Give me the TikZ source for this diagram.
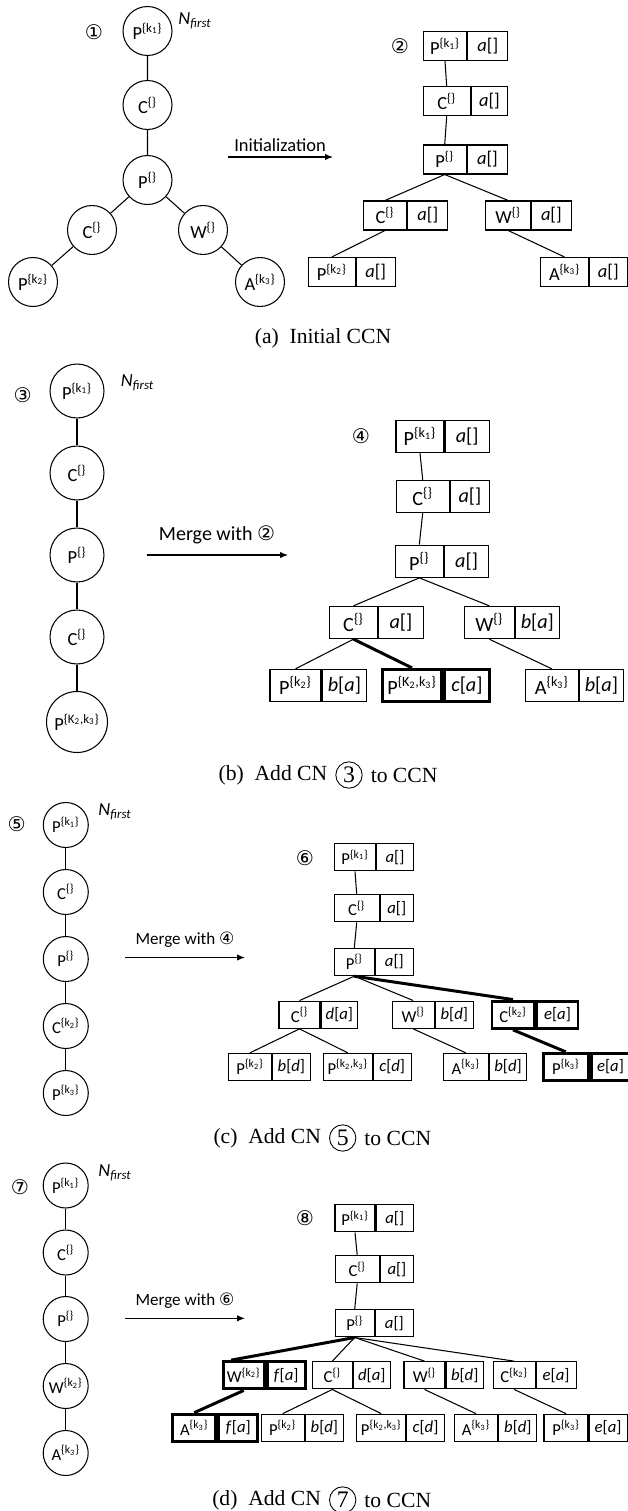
\documentclass[tikz,border=0pt]{standalone}
\usepackage{fontspec}
\setmainfont{Carlito}
\newfontfamily\capfont{Liberation Serif}
\newfontfamily\symfont{DejaVu Sans}
\usetikzlibrary{positioning,arrows.meta}
\newcommand{\lbl}[2]{#1\textsuperscript{\{#2\}}}
\newcommand{\nfirst}{\textit{N\textsubscript{first}}}

\begin{document}
\begin{tikzpicture}[x=0.02cm, y=-0.02cm, line width=0.6pt,
  >={Latex[length=4.5pt,width=3.6pt]},
  cn/.style={circle, draw, inner sep=0pt},
  cell/.style={draw, inner sep=0pt},
  wd/.style={minimum width=#1*0.02cm},
  hilite/.style={line width=1.7pt},
  fa/.style={font=\fontsize{10.5}{12}\selectfont},
  fb/.style={font=\fontsize{11.5}{13}\selectfont},
  fc/.style={font=\fontsize{9.5}{11}\selectfont},
  cna/.style={cn, fa, minimum size=0.98cm},
  cnb/.style={cn, fa, minimum size=1.08cm},
  cnc/.style={cn, fc, minimum size=0.9cm},
  cella/.style={cell, fa, minimum height=0.58cm},
  cellb/.style={cell, fb, minimum height=0.646cm},
  cellc/.style={cell, fc, minimum height=0.546cm},
  num/.style={font=\symfont\fontsize{11.5}{12}\selectfont},
  captxt/.style={font=\capfont\fontsize{12.3}{14}\selectfont},
  capnum/.style={captxt, circle, draw, line width=0.5pt, inner sep=0pt, minimum size=15pt, font=\capfont\fontsize{13.5}{14}\selectfont},
]
  \useasboundingbox (0,0) rectangle (627,1511);

  % (a) initial CN
  \node[num] (n1) at (94,32) {①};
  \node[fa] (nf1) at (195,21) {\nfirst};
  \node[cna] (ca1) at (147.5,31) {\lbl{P}{k\textsubscript{1}}};
  \node[cna] (ca2) at (147.5,105) {\lbl{C}{}};
  \node[cna] (ca3) at (147.5,180) {\lbl{P}{}};
  \node[cna] (ca4) at (92,230) {\lbl{C}{}};
  \node[cna] (ca5) at (203,230) {\lbl{W}{}};
  \node[cna] (ca6) at (33,282) {\lbl{P}{k\textsubscript{2}}};
  \node[cna] (ca7) at (260,282) {\lbl{A}{k\textsubscript{3}}};
  \draw (ca1) -- (ca2) -- (ca3) -- (ca4) -- (ca6);
  \draw (ca3) -- (ca5) -- (ca7);

  \coordinate (ia) at (228,157);
  \coordinate (ib) at (333,157);
  \draw[->] (ia) -- (ib);
  \node[fa] (ilab) at (280,145) {Initialization};

  % (a) CCN
  \node[num] (n2) at (400,46.5) {②};
  \node[cella, wd=43.4] (pa1) at (445,46.2) {\lbl{P}{k\textsubscript{1}}};
  \node[cella, wd=40, anchor=west] (pa1r) at (pa1.east) {\textit{a}[]};
  \node[cella, wd=46.7] (pa2) at (446.7,101.2) {\lbl{C}{}};
  \node[cella, wd=36.7, anchor=west] (pa2r) at (pa2.east) {\textit{a}[]};
  \node[cella, wd=42.7] (pa3) at (444.7,159.5) {\lbl{P}{}};
  \node[cella, wd=40.7, anchor=west] (pa3r) at (pa3.east) {\textit{a}[]};
  \node[cella, wd=43.4] (pa4) at (385,215.5) {\lbl{C}{}};
  \node[cella, wd=40, anchor=west] (pa4r) at (pa4.east) {\textit{a}[]};
  \node[cella, wd=45] (pa5) at (508.2,215.5) {\lbl{W}{}};
  \node[cella, wd=39.3, anchor=west] (pa5r) at (pa5.east) {\textit{a}[]};
  \node[cella, wd=47] (pa6) at (331.8,272) {\lbl{P}{k\textsubscript{2}}};
  \node[cella, wd=38.7, anchor=west] (pa6r) at (pa6.east) {\textit{a}[]};
  \node[cella, wd=47.6] (pa7) at (564.5,272) {\lbl{A}{k\textsubscript{3}}};
  \node[cella, wd=38, anchor=west] (pa7r) at (pa7.east) {\textit{a}[]};
  \draw (pa1.south) -- (pa2.north);
  \draw (pa2.south) -- (pa3.north);
  \draw (pa3.south) -- (pa4.north);
  \draw (pa3.south) -- (pa5.north);
  \draw (pa4.south) -- (pa6.north);
  \draw (pa5.south) -- (pa7.north);

  \node[captxt] (capa) at (323,338) {(a)\enspace Initial CCN};

  % (b) CN 3
  \node[num] (n3) at (22.7,395) {③};
  \node[fa] (nf3) at (137.5,383) {\nfirst};
  \node[cnb] (cb1) at (77,391) {\lbl{P}{k\textsubscript{1}}};
  \node[cnb] (cb2) at (77,473) {\lbl{C}{}};
  \node[cnb] (cb3) at (77,555) {\lbl{P}{}};
  \node[cnb] (cb4) at (77,637) {\lbl{C}{}};
  \node[cn, fa, minimum size=1.22cm] (cb5) at (77,722) {\lbl{P}{K\textsubscript{2},k\textsubscript{3}}};
  \draw (cb1) -- (cb2) -- (cb3) -- (cb4) -- (cb5);

  \coordinate (ma) at (146.7,555);
  \coordinate (mb) at (288,555);
  \draw[->] (ma) -- (mb);
  \node[font=\fontsize{11.4}{13}\selectfont] (mlab) at (217,535) {Merge with {\symfont ②}};

  % (b) CCN
  \node[num] (n4) at (361,436) {④};
  \node[cellb, wd=48] (pb1) at (420,436.2) {\lbl{P}{k\textsubscript{1}}};
  \node[cellb, wd=44.3, anchor=west] (pb1r) at (pb1.east) {\textit{a}[]};
  \node[cellb, wd=53.3] (pb2) at (422.7,496.5) {\lbl{C}{}};
  \node[cellb, wd=39, anchor=west] (pb2r) at (pb2.east) {\textit{a}[]};
  \node[cellb, wd=48] (pb3) at (419.3,561.2) {\lbl{P}{}};
  \node[cellb, wd=44.4, anchor=west] (pb3r) at (pb3.east) {\textit{a}[]};
  \node[cellb, wd=48.4] (pb4) at (353.5,622.5) {\lbl{C}{}};
  \node[cellb, wd=44.3, anchor=west] (pb4r) at (pb4.east) {\textit{a}[]};
  \node[cellb, wd=50] (pb5) at (489.3,622.5) {\lbl{W}{}};
  \node[cellb, wd=44, anchor=west] (pb5r) at (pb5.east) {\textit{b}[\textit{a}]};
  \node[cellb, wd=51] (pb6) at (295.5,685.5) {\lbl{P}{k\textsubscript{2}}};
  \node[cellb, wd=44.7, anchor=west] (pb6r) at (pb6.east) {\textit{b}[\textit{a}]};
  \node[cellb, hilite, wd=59.4] (pb7) at (412,685.5) {\lbl{P}{K\textsubscript{2},k\textsubscript{3}}};
  \node[cellb, hilite, wd=44.5, anchor=west] (pb7r) at (pb7.east) {\textit{c}[\textit{a}]};
  \node[cellb, wd=53] (pb8) at (551.8,685.5) {\lbl{A}{k\textsubscript{3}}};
  \node[cellb, wd=44, anchor=west] (pb8r) at (pb8.east) {\textit{b}[\textit{a}]};
  \draw (pb1.south) -- (pb2.north);
  \draw (pb2.south) -- (pb3.north);
  \draw (pb3.south) -- (pb4.north);
  \draw (pb3.south) -- (pb5.north);
  \draw (pb4.south) -- (pb6.north);
  \draw[hilite] (pb4.south) -- (pb7.north);
  \draw (pb5.south) -- (pb8.north);

  \node[capnum] (capb3) at (349,775) {3};
  \node[captxt, left=1pt of capb3] (capb) {(b)\enspace Add CN};
  \node[captxt, right=1pt of capb3] (capbt) {to CCN};

  % (c) CN 5
  \node[num] (n5) at (16.7,824) {⑤};
  \node[fa] (nf5) at (115,812) {\nfirst};
  \node[cnc] (cc1) at (65.8,825) {\lbl{P}{k\textsubscript{1}}};
  \node[cnc] (cc2) at (65.8,892) {\lbl{C}{}};
  \node[cnc] (cc3) at (65.8,959) {\lbl{P}{}};
  \node[cnc] (cc4) at (65.8,1026) {\lbl{C}{k\textsubscript{2}}};
  \node[cnc] (cc5) at (65.8,1093) {\lbl{P}{k\textsubscript{3}}};
  \draw (cc1) -- (cc2) -- (cc3) -- (cc4) -- (cc5);

  \coordinate (mc) at (125,957.5);
  \coordinate (md) at (245,957.5);
  \draw[->] (mc) -- (md);
  \node[font=\fontsize{9.7}{11}\selectfont] (mlabc) at (185,940) {Merge with {\symfont ④}};

  % (c) CCN
  \node[num] (n6) at (305,858) {⑥};
  \node[cellc, wd=41.4] (pc1) at (355,857.3) {\lbl{P}{k\textsubscript{1}}};
  \node[cellc, wd=36.6, anchor=west] (pc1r) at (pc1.east) {\textit{a}[]};
  \node[cellc, wd=44.7] (pc2) at (356.7,908.3) {\lbl{C}{}};
  \node[cellc, wd=33.3, anchor=west] (pc2r) at (pc2.east) {\textit{a}[]};
  \node[cellc, wd=40] (pc3) at (354.3,962) {\lbl{P}{}};
  \node[cellc, wd=38, anchor=west] (pc3r) at (pc3.east) {\textit{a}[]};
  \node[cellc, wd=41] (pc4) at (299.5,1014.7) {\lbl{C}{}};
  \node[cellc, wd=36.7, anchor=west] (pc4r) at (pc4.east) {\textit{d}[\textit{a}]};
  \node[cellc, wd=41.7] (pc5) at (413.2,1014.7) {\lbl{W}{}};
  \node[cellc, wd=38.3, anchor=west] (pc5r) at (pc5.east) {\textit{b}[\textit{d}]};
  \node[cellc, hilite, wd=42] (pc6) at (513,1014.7) {\lbl{C}{k\textsubscript{2}}};
  \node[cellc, hilite, wd=41, anchor=west] (pc6r) at (pc6.east) {\textit{e}[\textit{a}]};
  \node[cellc, wd=43.4] (pc7) at (250,1067) {\lbl{P}{k\textsubscript{2}}};
  \node[cellc, wd=37.3, anchor=west] (pc7r) at (pc7.east) {\textit{b}[\textit{d}]};
  \node[cellc, wd=49] (pc8) at (347.8,1067) {\lbl{P}{k\textsubscript{2},k\textsubscript{3}}};
  \node[cellc, wd=37.7, anchor=west] (pc8r) at (pc8.east) {\textit{c}[\textit{d}]};
  \node[cellc, wd=45] (pc9) at (465.8,1067) {\lbl{A}{k\textsubscript{3}}};
  \node[cellc, wd=37.4, anchor=west] (pc9r) at (pc9.east) {\textit{b}[\textit{d}]};
  \node[cellc, hilite, wd=45] (pc10) at (565.8,1067) {\lbl{P}{k\textsubscript{3}}};
  \node[cellc, hilite, wd=38.4, anchor=west] (pc10r) at (pc10.east) {\textit{e}[\textit{a}]};
  \draw (pc1.south) -- (pc2.north);
  \draw (pc2.south) -- (pc3.north);
  \draw (pc3.south) -- (pc4.north);
  \draw (pc3.south) -- (pc5.north);
  \draw[hilite] (pc3.south) -- (pc6.north);
  \draw (pc4.south) -- (pc7.north);
  \draw (pc4.south) -- (pc8.north);
  \draw (pc5.south) -- (pc9.north);
  \draw[hilite] (pc6.south) -- (pc10.north);

  \node[capnum] (capc5) at (342.7,1138) {5};
  \node[captxt, left=1pt of capc5] (capc) {(c)\enspace Add CN};
  \node[captxt, right=1pt of capc5] (capct) {to CCN};

  % (d) CN 7
  \node[num] (n7) at (20,1186.7) {⑦};
  \node[fa] (nf7) at (115,1173) {\nfirst};
  \node[cnc] (cd1) at (65.7,1185.5) {\lbl{P}{k\textsubscript{1}}};
  \node[cnc] (cd2) at (65.7,1252.5) {\lbl{C}{}};
  \node[cnc] (cd3) at (65.7,1319) {\lbl{P}{}};
  \node[cnc] (cd4) at (65.7,1386) {\lbl{W}{k\textsubscript{2}}};
  \node[cnc] (cd5) at (65.7,1453) {\lbl{A}{k\textsubscript{3}}};
  \draw (cd1) -- (cd2) -- (cd3) -- (cd4) -- (cd5);

  \coordinate (me) at (125,1318.3);
  \coordinate (mf) at (245,1318.3);
  \draw[->] (me) -- (mf);
  \node[font=\fontsize{9.7}{11}\selectfont] (mlabd) at (185,1301) {Merge with {\symfont ⑥}};

  % (d) CCN
  \node[num] (n8) at (305,1218.3) {⑧};
  \node[cellc, wd=40] (pd1) at (355,1218.3) {\lbl{P}{k\textsubscript{1}}};
  \node[cellc, wd=37.3, anchor=west] (pd1r) at (pd1.east) {\textit{a}[]};
  \node[cellc, wd=44.3] (pd2) at (357.2,1269.2) {\lbl{C}{}};
  \node[cellc, wd=33, anchor=west] (pd2r) at (pd2.east) {\textit{a}[]};
  \node[cellc, wd=39.3] (pd3) at (354.7,1323.3) {\lbl{P}{}};
  \node[cellc, wd=38, anchor=west] (pd3r) at (pd3.east) {\textit{a}[]};
  \node[cellc, hilite, wd=40.7] (pd4) at (243.7,1375.3) {\lbl{W}{k\textsubscript{2}}};
  \node[cellc, hilite, wd=38.3, anchor=west] (pd4r) at (pd4.east) {\textit{f}[\textit{a}]};
  \node[cellc, wd=40] (pd5) at (332.3,1375.3) {\lbl{C}{}};
  \node[cellc, wd=37, anchor=west] (pd5r) at (pd5.east) {\textit{d}[\textit{a}]};
  \node[cellc, wd=41] (pd6) at (424.5,1375.3) {\lbl{W}{}};
  \node[cellc, wd=37.3, anchor=west] (pd6r) at (pd6.east) {\textit{b}[\textit{d}]};
  \node[cellc, wd=41.7] (pd7) at (514.2,1375.3) {\lbl{C}{k\textsubscript{2}}};
  \node[cellc, wd=40, anchor=west] (pd7r) at (pd7.east) {\textit{e}[\textit{a}]};
  \node[cellc, hilite, wd=43] (pd8) at (194.2,1427.8) {\lbl{A}{k\textsubscript{3}}};
  \node[cellc, hilite, wd=39.3, anchor=west] (pd8r) at (pd8.east) {\textit{f}[\textit{a}]};
  \node[cellc, wd=43.3] (pd9) at (282.7,1427.8) {\lbl{P}{k\textsubscript{2}}};
  \node[cellc, wd=38, anchor=west] (pd9r) at (pd9.east) {\textit{b}[\textit{d}]};
  \node[cellc, wd=49] (pd10) at (381.2,1427.8) {\lbl{P}{k\textsubscript{2},k\textsubscript{3}}};
  \node[cellc, wd=37.6, anchor=west] (pd10r) at (pd10.east) {\textit{c}[\textit{d}]};
  \node[cellc, wd=43.7] (pd11) at (476,1427.8) {\lbl{A}{k\textsubscript{3}}};
  \node[cellc, wd=38, anchor=west] (pd11r) at (pd11.east) {\textit{b}[\textit{d}]};
  \node[cellc, wd=44] (pd12) at (566,1427.8) {\lbl{P}{k\textsubscript{3}}};
  \node[cellc, wd=38, anchor=west] (pd12r) at (pd12.east) {\textit{e}[\textit{a}]};
  \draw (pd1.south) -- (pd2.north);
  \draw (pd2.south) -- (pd3.north);
  \draw[hilite] (pd3.south) -- (pd4.130);
  \draw (pd3.south) -- (pd5.north);
  \draw (pd3.south) -- (pd6.north);
  \draw (pd3.south) -- (pd7.north);
  \draw[hilite] (pd4.south) -- (pd8.north);
  \draw (pd5.south) -- (pd9.north);
  \draw (pd5.south) -- (pd10.north);
  \draw (pd6.south) -- (pd11.north);
  \draw (pd7.south) -- (pd12.north);

  \node[capnum] (capd7) at (342.7,1500) {7};
  \node[captxt, left=1pt of capd7] (capd) {(d)\enspace Add CN};
  \node[captxt, right=1pt of capd7] (capdt) {to CCN};
\end{tikzpicture}
\end{document}
